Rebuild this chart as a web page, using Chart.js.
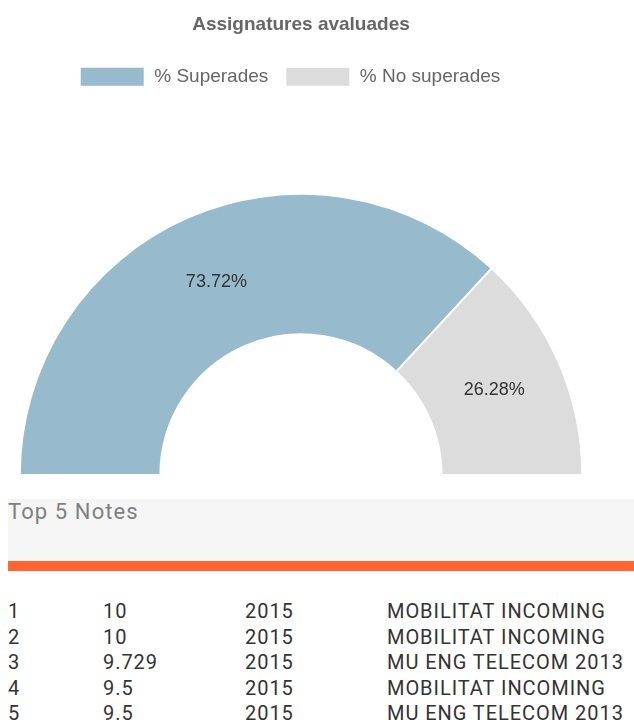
<!DOCTYPE html>
<html>
<head>
<meta charset="utf-8">
<script src="https://cdn.jsdelivr.net/npm/chart.js@4/dist/chart.umd.min.js"></script>
<style>
  body { margin: 0; background: #fff; width: 634px; height: 722px; overflow: hidden; position: relative; }
  #wrap { position: absolute; left: 0; top: 0; width: 602px; height: 480px; }
  #panel { position: absolute; left: 8px; top: 499px; width: 626px; height: 62px; background: #f5f5f5; }
  #panel span { position: absolute; left: 0; top: 0; font: 400 22px Roboto, sans-serif; letter-spacing: 1.1px; color: #808080; }
  #bar { position: absolute; left: 8px; top: 561px; width: 626px; height: 10px; background: #ff6633; }
  #top5 { position: absolute; left: 8px; top: 599px; border-collapse: collapse; font: 400 20px Roboto, sans-serif; letter-spacing: 0.95px; color: #333; }
  #top5 td { padding: 0; height: 25.5px; line-height: 25.5px; white-space: nowrap; }
</style>
</head>
<body>
<div id="wrap"><canvas id="chartAssig"></canvas></div>
<div id="panel"><span>Top 5 Notes</span></div>
<div id="bar"></div>
<table id="top5"></table>
<script>
const labels = ["% Superades", "% No superades"];
const values = [73.72, 26.28];
const colors = ["#97bbcd", "#dcdcdc"];

const rank = [1, 2, 3, 4, 5];
const notes = ["10", "10", "9.729", "9.5", "9.5"];
const years = ["2015", "2015", "2015", "2015", "2015"];
const subjects = ["MOBILITAT INCOMING", "MOBILITAT INCOMING", "MU ENG TELECOM 2013", "MOBILITAT INCOMING", "MU ENG TELECOM 2013"];

const colWidths = [95, 142, 142, 240];
const table = document.getElementById("top5");
rank.forEach(function (r, i) {
  const tr = document.createElement("tr");
  [r, notes[i], years[i], subjects[i]].forEach(function (v, c) {
    const td = document.createElement("td");
    td.style.width = colWidths[c] + "px";
    td.textContent = v;
    tr.appendChild(td);
  });
  table.appendChild(tr);
});

// extra room under the legend so the half ring sits low, legend nudged left
const legendSpace = {
  id: "legendSpace",
  beforeInit(chart) {
    const fit = chart.legend.fit;
    chart.legend.fit = function () {
      fit.bind(chart.legend)();
      this.height = 143;
    };
    const draw = chart.legend.draw;
    chart.legend.draw = function () {
      this.ctx.save();
      this.ctx.translate(-11, 0);
      draw.call(this);
      this.ctx.restore();
    };
  }
};

// percentage text in the middle of each arc
const arcLabels = {
  id: "arcLabels",
  afterDatasetsDraw(chart) {
    const ctx = chart.ctx;
    const meta = chart.getDatasetMeta(0);
    ctx.save();
    ctx.font = "18px 'Liberation Sans', Arial, sans-serif";
    ctx.fillStyle = "#333";
    ctx.textAlign = "center";
    ctx.textBaseline = "middle";
    meta.data.forEach(function (arc, i) {
      const p = arc.getCenterPoint();
      ctx.fillText(values[i].toFixed(2) + "%", p.x, p.y);
    });
    ctx.restore();
  }
};

Chart.defaults.font.family = "'Liberation Sans', Arial, sans-serif";

new Chart(document.getElementById("chartAssig"), {
  type: "doughnut",
  data: {
    labels: labels,
    datasets: [{
      data: values,
      backgroundColor: colors,
      borderColor: "#fff",
      borderWidth: 2,
      hoverOffset: 0
    }]
  },
  options: {
    responsive: true,
    maintainAspectRatio: false,
    animation: false,
    rotation: -90,
    circumference: 180,
    cutout: "50%",
    layout: { padding: { left: 18, right: 18, bottom: 4 } },
    plugins: {
      title: {
        display: true,
        text: "Assignatures avaluades",
        color: "#666",
        font: { size: 19, weight: "bold" },
        padding: { top: 13, bottom: 14 }
      },
      legend: {
        labels: {
          color: "#666",
          font: { size: 19 },
          boxWidth: 65,
          boxHeight: 20,
          padding: 17
        }
      },
      tooltip: { enabled: false }
    }
  },
  plugins: [legendSpace, arcLabels]
});
</script>
</body>
</html>
